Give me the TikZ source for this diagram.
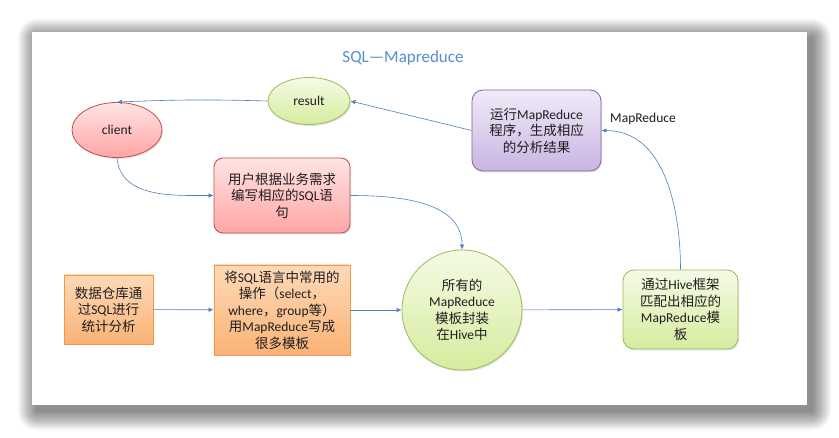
\documentclass[tikz,border=0pt]{standalone}
\usepackage{fontspec}
\setmainfont{Carlito}
\newfontfamily\cjk{Noto Sans CJK SC}
\newcommand\zh[1]{{\cjk #1}}
\usetikzlibrary{arrows.meta,shapes.geometric,shadows}
\definecolor{link}{RGB}{79,129,189}
\definecolor{ttl}{RGB}{85,142,213}
\definecolor{ink}{RGB}{30,30,30}
\definecolor{redln}{RGB}{192,80,77}
\definecolor{redtop}{RGB}{255,228,228}
\definecolor{redbot}{RGB}{255,165,165}
\definecolor{grnln}{RGB}{155,187,89}
\definecolor{grntop}{RGB}{244,251,230}
\definecolor{grnbot}{RGB}{214,236,158}
\definecolor{prpln}{RGB}{128,100,162}
\definecolor{prptop}{RGB}{241,235,248}
\definecolor{prpbot}{RGB}{200,180,226}
\definecolor{orgln}{RGB}{247,150,70}
\definecolor{orgtop}{RGB}{253,218,184}
\definecolor{orgbot}{RGB}{250,178,118}
\tikzset{
  shape base/.style={ink,align=center,inner sep=1pt,line width=0.8pt,
    font=\fontsize{13.5}{16.5}\selectfont,
    drop shadow={opacity=0.22,shadow xshift=1pt,shadow yshift=-1.5pt}},
  redbox/.style={shape base,rounded corners=9pt,draw=redln,top color=redtop,bottom color=redbot},
  prpbox/.style={shape base,rounded corners=11pt,draw=prpln,top color=prptop,bottom color=prpbot},
  grnbox/.style={shape base,rounded corners=11pt,draw=grnln,top color=grntop,bottom color=grnbot},
  orgbox/.style={shape base,draw=orgln,top color=orgtop,bottom color=orgbot},
  redoval/.style={shape base,ellipse,draw=redln,top color=redtop,bottom color=redbot},
  grnoval/.style={shape base,ellipse,draw=grnln,top color=grntop,bottom color=grnbot},
  grnball/.style={shape base,circle,draw=grnln,top color=grntop,bottom color=grnbot},
  flow/.style={link,line width=0.6pt,-{Latex[length=5pt,width=4.5pt]}},
}

\begin{document}
\begin{tikzpicture}[x=1pt,y=1pt]
  \useasboundingbox (0,0) rectangle (839,437);
  \fill[white] (0,0) rectangle (839,437);
  % panel with its soft shadow
  \foreach \s in {1,...,32}
    \fill[black,opacity=0.014,rounded corners=0.6*\s pt]
      (37-0.6*\s,26-0.6*\s) rectangle (812+0.6*\s,399+0.6*\s);
  \fill[white] (32,32) rectangle (807,405);
  \node[ttl,font=\fontsize{17}{20}\selectfont] (title) at (403,379) {SQL—Mapreduce};

  \node[grnoval,minimum width=82,minimum height=47] (result) at (309,336) {result};
  \node[redoval,minimum width=90,minimum height=55] (client) at (117,307) {client};
  \node[redbox,minimum width=136,minimum height=75] (ask) at (282,241.5)
    {\zh{用户根据业务需求}\\\zh{编写相应的}SQL\zh{语}\\\zh{句}};
  \node[prpbox,minimum width=129,minimum height=81] (run) at (536.5,306.5)
    {\zh{运行}MapReduce\\\zh{程序，生成相应}\\\zh{的分析结果}};
  \node[ink,font=\fontsize{13.5}{16.5}\selectfont] (tag) at (643,318) {MapReduce};
  \node[orgbox,minimum width=89,minimum height=69] (stat) at (108.5,127.5)
    {\zh{数据仓库通}\\\zh{过}SQL\zh{进行}\\\zh{统计分析}};
  \node[orgbox,minimum width=136,minimum height=90] (tmpl) at (282,127)
    {\zh{将}SQL\zh{语言中常用的}\\\zh{操作（}select\zh{，}\\where\zh{，}group\zh{等）}\\\zh{用}MapReduce\zh{写成}\\\zh{很多模板}};
  \node[grnball,minimum size=120] (hive) at (462,127)
    {\zh{所有的}\\MapReduce\\\zh{模板封装}\\\zh{在}Hive\zh{中}};
  \node[grnbox,minimum width=115,minimum height=79] (match) at (680.5,127.5)
    {\zh{通过}Hive\zh{框架}\\\zh{匹配出相应的}\\MapReduce\zh{模}\\\zh{板}};

  \draw[flow] (result.west) to[bend right=2] (client.north);
  \draw[flow] (run.west) -- (result.east);
  \draw[flow] (client.south) to[out=-85,in=180] (ask.west);
  \draw[flow] (ask.east) to[out=0,in=90] (hive.north);
  \draw[flow] (stat) -- (tmpl);
  \draw[flow] (tmpl) -- (hive);
  \draw[flow] (hive) -- (match);
  \draw[flow] (match.north) to[out=90,in=0] (run.east);
\end{tikzpicture}
\end{document}
